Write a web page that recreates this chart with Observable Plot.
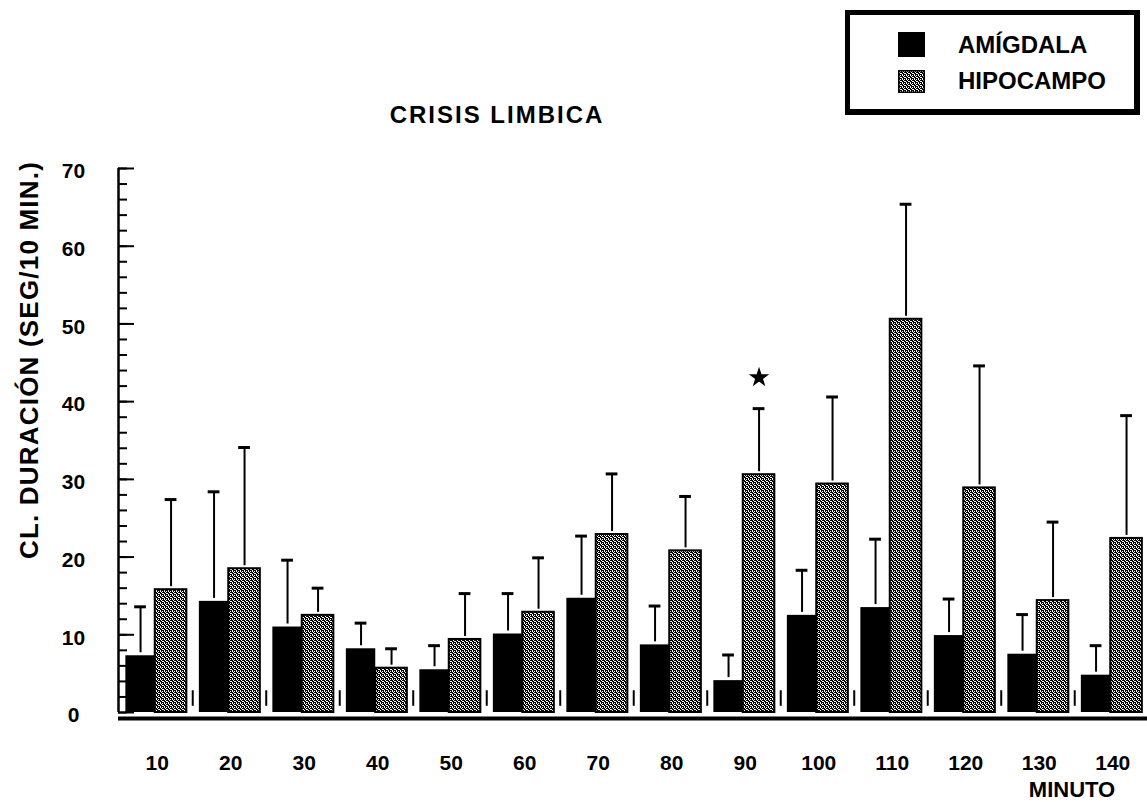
<!DOCTYPE html>
<html>
<head>
<meta charset="utf-8">
<script src="https://cdn.jsdelivr.net/npm/d3@7"></script>
<script src="https://cdn.jsdelivr.net/npm/@observablehq/plot@0.6"></script>
<style>
  html, body { margin: 0; padding: 0; background: #fff; }
  #root { position: relative; width: 1147px; height: 802px; overflow: hidden;
          font-family: "Liberation Sans", Arial, sans-serif; color: #000; }
  #chart { position: absolute; left: 0; top: 150px; }
  #chart svg text { font-size: 21px; font-weight: bold; }
  #title { position: absolute; left: 0; width: 994px; top: 103px; text-align: center;
           font-size: 24px; line-height: 24px; font-weight: bold; letter-spacing: 2px; }
  #ytitle { position: absolute; left: -221px; width: 500px; top: 347px; text-align: center;
            font-size: 26px; line-height: 26px; font-weight: bold; letter-spacing: 1.2px;
            transform: rotate(-90deg); transform-origin: 50% 50%; white-space: nowrap; }
  #xtitle { position: absolute; left: 972px; width: 200px; top: 779px; text-align: center;
            font-size: 22px; line-height: 22px; font-weight: bold; }
  #legend { position: absolute; left: 845px; top: 10px; width: 284px; height: 94px;
            border-style: solid; border-color: #000; border-width: 5px 6px 6px 5px; background: #fff; }
  .lg-item { position: absolute; left: 0; height: 26px; width: 280px; }
  .lg-item svg { position: absolute; left: 48px; top: 0; }
  .lg-item span { position: absolute; left: 108px; top: 0; font-size: 24px; line-height: 26px; font-weight: bold; white-space: nowrap; }
</style>
</head>
<body>
<svg width="0" height="0" style="position:absolute">
  <defs>
    <pattern id="hatch" width="4" height="4" patternUnits="userSpaceOnUse">
      <rect width="4" height="4" fill="#000"></rect>
      <path d="M0,0h1v1h-1zM2,1h1v1h-1zM1,2h1v1h-1zM3,3h1v1h-1zM2,3h1v1h-1zM0,1h1v1h-1z" fill="#fff"></path>
    </pattern>
  </defs>
</svg>
<div id="root">
  <div id="legend"></div>
  <div id="title"></div>
  <div id="ytitle"></div>
  <div id="chart"></div>
  <div id="xtitle"></div>
</div>
<script>
// ---- data ----
const titleText = "CRISIS LIMBICA";
const yTitle = "CL. DURACIÓN (SEG/10 MIN.)";
const xTitle = "MINUTO";
const seriesNames = ["AMÍGDALA", "HIPOCAMPO"];
const minutes = [10, 20, 30, 40, 50, 60, 70, 80, 90, 100, 110, 120, 130, 140];
const amigdala    = [7.3, 14.3, 11.0, 8.2, 5.5, 10.1, 14.7, 8.7, 4.1, 12.5, 13.5, 9.9, 7.5, 4.8];
const amigdalaTop = [13.6, 28.4, 19.6, 11.5, 8.6, 15.3, 22.7, 13.7, 7.4, 18.3, 22.3, 14.6, 12.6, 8.6];
const hipocampo    = [15.8, 18.5, 12.5, 5.7, 9.4, 12.9, 22.9, 20.8, 30.6, 29.4, 50.6, 28.9, 14.4, 22.4];
const hipocampoTop = [27.4, 34.1, 16.0, 8.2, 15.3, 19.9, 30.7, 27.8, 39.1, 40.6, 65.4, 44.6, 24.5, 38.2];
const significance = [{minute: 90, value: 43.1}];   // asterisk over HIPOCAMPO at 90 min
const yMajorTicks = [0, 10, 20, 30, 40, 50, 60, 70];
const yMinorTicks = d3.range(0, 71, 2);

// ---- layout constants ----
const xDomain = [5, 145];
const halfA = 4.0;   // black bar width in x units
const halfH = 4.3;   // hatched bar width in x units
const capHalf = 0.8;

const rows = minutes.map((m, i) => ({
  minute: m, a: amigdala[i], aTop: amigdalaTop[i], h: hipocampo[i], hTop: hipocampoTop[i]
}));

document.getElementById("title").textContent = titleText;
document.getElementById("ytitle").textContent = yTitle;
document.getElementById("xtitle").textContent = xTitle;

// legend
const legend = document.getElementById("legend");
const swatchFill = ["#000", "url(#hatch)"];
seriesNames.forEach((name, i) => {
  const item = document.createElement("div");
  item.className = "lg-item";
  item.style.top = (17 + i * 38) + "px";
  const h = i === 0 ? 25 : 23;
  item.innerHTML = `<svg width="27" height="${h}"><rect x="0.75" y="0.75" width="25.5" height="${h - 1.5}" fill="${swatchFill[i]}" stroke="#000" stroke-width="1.5"></rect></svg><span></span>`;
  item.querySelector("span").textContent = name;
  if (i === 1) item.querySelector("span").style.top = "-2px";
  legend.appendChild(item);
});

const plot = Plot.plot({
  width: 1147,
  height: 652,
  marginLeft: 118,
  marginRight: 0,
  marginTop: 18,
  marginBottom: 90,
  x: {type: "linear", domain: xDomain, label: null},
  y: {domain: [0, 70], label: null},
  style: {fontFamily: "'Liberation Sans', Arial, sans-serif", fontSize: "21px", background: "transparent", color: "#000"},
  marks: [
    // gap marks near baseline between groups
    Plot.ruleX(rows, {x: d => d.minute + halfH + 0.8, y1: 0.8, y2: 2.8, stroke: "#000", strokeWidth: 2}),
    // bars
    Plot.rectY(rows, {x1: d => d.minute - halfA, x2: d => d.minute, y1: 0, y2: "a", fill: "#000"}),
    Plot.rectY(rows, {x1: d => d.minute, x2: d => d.minute + halfH, y1: 0, y2: "h",
                      fill: "url(#hatch)", stroke: "#000", strokeWidth: 2}),
    // error bars
    Plot.ruleX(rows, {x: d => d.minute - halfA / 2, y1: "a", y2: "aTop", stroke: "#000", strokeWidth: 2, insetTop: -3}),
    Plot.ruleX(rows, {x: d => d.minute + halfH / 2, y1: "h", y2: "hTop", stroke: "#000", strokeWidth: 2, insetTop: -3}),
    Plot.ruleY(rows, {y: "aTop", x1: d => d.minute - halfA / 2 - capHalf, x2: d => d.minute - halfA / 2 + capHalf, stroke: "#000", strokeWidth: 3}),
    Plot.ruleY(rows, {y: "hTop", x1: d => d.minute + halfH / 2 - capHalf, x2: d => d.minute + halfH / 2 + capHalf, stroke: "#000", strokeWidth: 3}),
    // significance mark
    Plot.dot(significance, {x: d => d.minute + halfH / 2, y: "value", symbol: "star", r: 5, fill: "#000", stroke: "#000"}),
    // axes
    Plot.ruleX([xDomain[0]], {y1: 0, y2: 70, stroke: "#000", strokeWidth: 2.5}),
    Plot.ruleY([0], {dy: 6, stroke: "#000", strokeWidth: 4}),
    Plot.axisY(yMinorTicks, {tickSize: 9, dx: 9, strokeWidth: 2, tickFormat: () => "", label: null}),
    Plot.axisY(yMajorTicks, {tickSize: 16, dx: 16, strokeWidth: 2, tickFormat: () => "", label: null}),
    Plot.axisY(yMajorTicks, {tickSize: 0, tickPadding: 45, textAnchor: "middle", dy: 3,
                             fontSize: 21, fontWeight: "bold", label: null}),
    Plot.axisX(minutes, {tickSize: 0, tickPadding: 43, dx: 2, fontSize: 21, fontWeight: "bold", label: null})
  ]
});
document.getElementById("chart").appendChild(plot);
</script>
</body>
</html>
